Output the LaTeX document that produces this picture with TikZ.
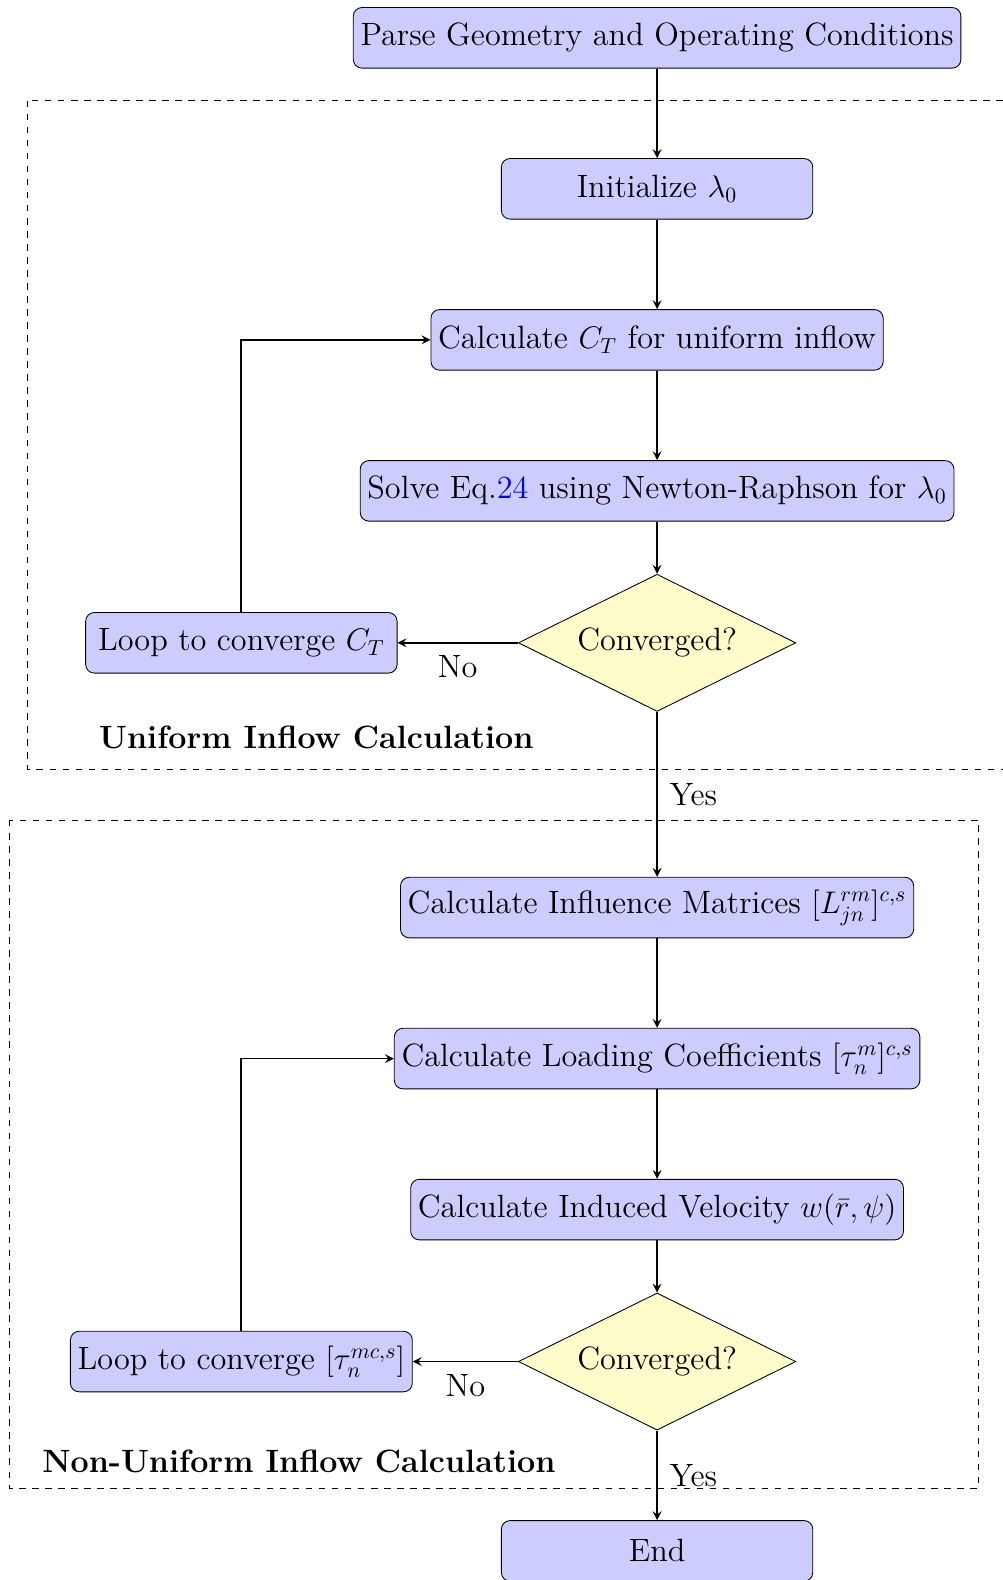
\documentclass[tikz,border=0pt]{standalone}
\usepackage{amsmath,amssymb}
\usepackage{tikz}
\usetikzlibrary{positioning,calc,shapes.geometric}
\usepackage{xcolor}

\begin{document}
\begin{tikzpicture}[
  font=\fontsize{14.85}{17.5}\selectfont,
  stepbox/.style={rectangle, rounded corners, draw, fill=blue!20, minimum width=5.04cm, minimum height=0.98cm},
  decision/.style={diamond, aspect=2, draw, fill=yellow!20, minimum width=4.49cm, minimum height=2.22cm, inner sep=1pt},
  link/.style={draw, thick, -stealth},
  groupbox/.style={draw, dashed},
  grouplabel/.style={font=\fontsize{14.85}{17.5}\selectfont\bfseries, anchor=west}]
\useasboundingbox (0,0) rectangle (16.23,-25.57);
% GROUP FRAMES: uniform and non-uniform inflow stages
\draw[groupbox] (0.445,-1.63) rectangle (16.6,-12.45);
\draw[groupbox] (0.155,-13.27) rectangle (15.84,-24.08);
\node[grouplabel] (g1) at (1.48,-11.94) {Uniform Inflow Calculation};
\node[grouplabel] (g2) at (0.56,-23.65) {Non-Uniform Inflow Calculation};
% STAGE 1: uniform inflow (lambda_0 and C_T)
\node[stepbox] (parse) at (10.634,-0.612) {Parse Geometry and Operating Conditions};
\node[stepbox, below=1.45cm of parse] (init) {Initialize $\lambda_0$};
\node[stepbox, below=1.45cm of init] (ct) {Calculate $C_T$ for uniform inflow};
\node[stepbox, below=1.45cm of ct] (solve) {Solve Eq.\textcolor{blue}{24} using Newton-Raphson for $\lambda_0$};
\node[decision, below=0.845cm of solve] (dec1) {Converged?};
\node[stepbox] (loop1) at ($(dec1.center)+(-6.728,0)$) {Loop to converge $C_T$};
% STAGE 2: non-uniform inflow (loading coefficients)
\node[stepbox, below=2.67cm of dec1] (infl) {Calculate Influence Matrices $[L_{jn}^{rm}]^{c,s}$};
\node[stepbox, below=1.45cm of infl] (load) {Calculate Loading Coefficients $[\tau_n^m]^{c,s}$};
\node[stepbox, below=1.45cm of load] (ind) {Calculate Induced Velocity $w(\bar{r},\psi)$};
\node[decision, below=0.845cm of ind] (dec2) {Converged?};
\node[stepbox] (loop2) at ($(dec2.center)+(-6.728,0)$) {Loop to converge $[\tau_n^{mc,s}]$};
\node[stepbox, below=1.45cm of dec2] (fin) {End};
% CONNECTORS
\draw[link] (parse) -- (init);
\draw[link] (init) -- (ct);
\draw[link] (ct) -- (solve);
\draw[link] (solve) -- (dec1);
\draw[link] (dec1) -- node[below, yshift=-2pt] (no1) {No} (loop1);
\draw[link] (loop1) |- (ct);
\draw[link] (dec1) -- node[right, xshift=2pt] (yes1) {Yes} (infl);
\draw[link] (infl) -- (load);
\draw[link] (load) -- (ind);
\draw[link] (ind) -- (dec2);
\draw[link] (dec2) -- node[below, yshift=-2pt] (no2) {No} (loop2);
\draw[link] (loop2) |- (load);
\draw[link] (dec2) -- node[right, xshift=2pt] (yes2) {Yes} (fin);
\end{tikzpicture}
\end{document}
